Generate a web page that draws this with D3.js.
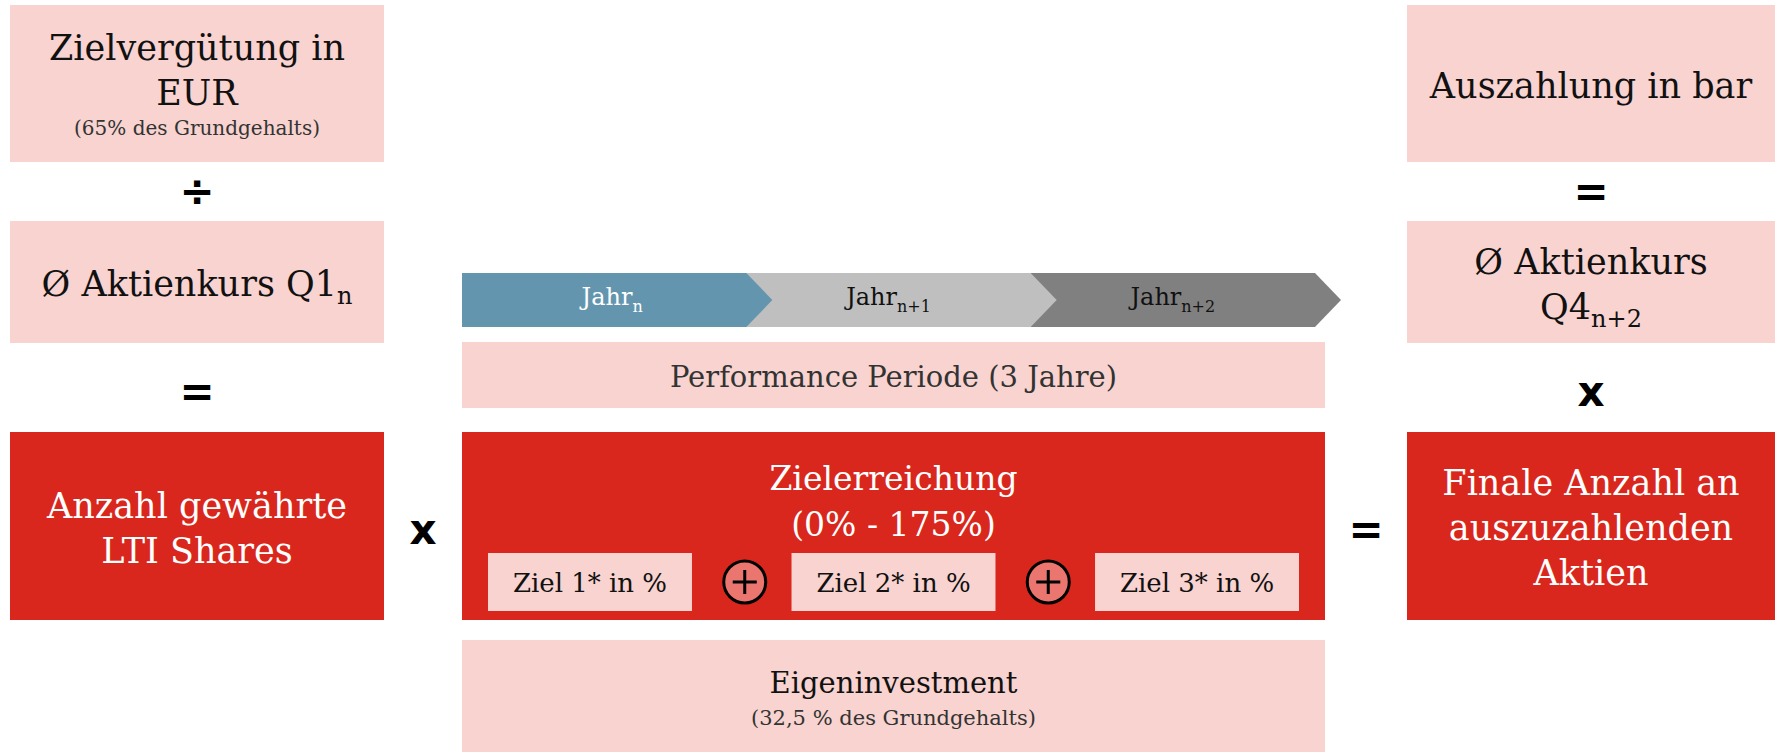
<!DOCTYPE html>
<html>
<head>
<meta charset="utf-8">
<script src="https://cdn.jsdelivr.net/npm/d3@7"></script>
<style>
  html, body { margin: 0; padding: 0; background: #fff; }
  svg { display: block; }
  .label { font-family: "DejaVu Serif", serif; }
  .op { font-family: "DejaVu Sans", sans-serif; font-weight: bold; }
</style>
</head>
<body>
<div id="chart"></div>
<script>
// "_" marks the start of a subscript
const leftBoxes = [
  { lines: ["Zielvergütung in", "EUR"], note: "(65% des Grundgehalts)", tone: "light" },
  { lines: ["Ø Aktienkurs Q1_n"], tone: "light" },
  { lines: ["Anzahl gewährte", "LTI Shares"], tone: "dark" },
];
const rightBoxes = [
  { lines: ["Auszahlung in bar"], tone: "light" },
  { lines: ["Ø Aktienkurs", "Q4_n+2"], tone: "light" },
  { lines: ["Finale Anzahl an", "auszuzahlenden", "Aktien"], tone: "dark" },
];
const leftOperators = ["÷", "="];
const rightOperators = ["=", "x"];
const joinOperators = ["x", "="];

const years = ["Jahr_n", "Jahr_n+1", "Jahr_n+2"];
const periodLabel = "Performance Periode (3 Jahre)";
const targetTitle = ["Zielerreichung", "(0% - 175%)"];
const goals = ["Ziel 1* in %", "Ziel 2* in %", "Ziel 3* in %"];
const investTitle = "Eigeninvestment";
const investNote = "(32,5 % des Grundgehalts)";

const width = 1777;
const height = 752;

const colors = {
  light: "#f8d3d0",
  dark: "#d9271d",
  years: ["#6396ae", "#bfbfbf", "#808080"],
  yearText: ["#ffffff", "#111111", "#111111"],
  plus: "#ea766f",
};

// column edges and row bands
const cols = {
  left: [10, 384],
  mid: [462, 1325],
  right: [1407, 1775],
};
const rows = [
  [5, 162],
  [221, 343],
  [432, 620],
];

const svg = d3
  .select("#chart")
  .append("svg")
  .attr("width", width)
  .attr("height", height)
  .attr("viewBox", [0, 0, width, height]);

function addText(sel, str, subSize, subShift) {
  const parts = str.split("_");
  sel.append("tspan").text(parts[0]);
  if (parts.length > 1) {
    sel
      .append("tspan")
      .attr("font-size", subSize)
      .attr("dy", subShift)
      .text(parts[1]);
  }
}

function drawColumn(boxes, [x0, x1]) {
  const cx = (x0 + x1) / 2;
  const g = svg.append("g");
  boxes.forEach((b, i) => {
    const [y0, y1] = rows[i];
    g.append("rect")
      .attr("x", x0)
      .attr("y", y0)
      .attr("width", x1 - x0)
      .attr("height", y1 - y0)
      .attr("fill", colors[b.tone]);

    const lh = 45;
    const noteH = b.note ? 30 : 0;
    const cy = (y0 + y1) / 2 + 14 - noteH / 2;
    const first = cy - ((b.lines.length - 1) * lh) / 2;
    b.lines.forEach((line, j) => {
      const t = g
        .append("text")
        .attr("class", "label")
        .attr("x", cx)
        .attr("y", first + j * lh)
        .attr("text-anchor", "middle")
        .attr("font-size", 35)
        .attr("fill", b.tone === "dark" ? "#fff" : "#111");
      addText(t, line, 24, 8);
    });
    if (b.note) {
      g.append("text")
        .attr("class", "label")
        .attr("x", cx)
        .attr("y", first + (b.lines.length - 1) * lh + noteH)
        .attr("text-anchor", "middle")
        .attr("font-size", 20)
        .attr("fill", "#333")
        .text(b.note);
    }
  });
}

function drawOperators(ops, cx) {
  ops.forEach((op, i) => {
    const cy = (rows[i][1] + rows[i + 1][0]) / 2 + (i === 0 ? 0 : 4);
    svg
      .append("text")
      .attr("class", "op")
      .attr("x", cx)
      .attr("y", cy)
      .attr("text-anchor", "middle")
      .attr("dominant-baseline", "central")
      .attr("font-size", 42)
      .attr("fill", "#000")
      .text(op);
  });
}

drawColumn(leftBoxes, cols.left);
drawColumn(rightBoxes, cols.right);
drawOperators(leftOperators, (cols.left[0] + cols.left[1]) / 2);
drawOperators(rightOperators, (cols.right[0] + cols.right[1]) / 2);

// operators between the columns on the bottom row
const bottomMid = (rows[2][0] + rows[2][1]) / 2 + 3;
[(cols.left[1] + cols.mid[0]) / 2, (cols.mid[1] + cols.right[0]) / 2].forEach(
  (x, i) => {
    svg
      .append("text")
      .attr("class", "op")
      .attr("x", x)
      .attr("y", bottomMid)
      .attr("text-anchor", "middle")
      .attr("dominant-baseline", "central")
      .attr("font-size", 42)
      .attr("fill", "#000")
      .text(joinOperators[i]);
  }
);

// ---- middle column ----
const midCx = (cols.mid[0] + cols.mid[1]) / 2;

// year chevrons
const xYear = d3.scaleBand().domain(years).range([462, 1315]).padding(0);
const yearTop = 273;
const yearBot = 327;
const tipDepth = 26;
const yearG = svg.append("g");
years
  .slice()
  .reverse()
  .forEach((y) => {
    const i = years.indexOf(y);
    const left = xYear(y);
    const shoulder = left + xYear.bandwidth();
    const ym = (yearTop + yearBot) / 2;
    yearG
      .append("path")
      .attr(
        "d",
        d3.line()([
          [left, yearTop],
          [shoulder, yearTop],
          [shoulder + tipDepth, ym],
          [shoulder, yearBot],
          [left, yearBot],
        ]) + "Z"
      )
      .attr("fill", colors.years[i]);
  });
years.forEach((y, i) => {
  const t = yearG
    .append("text")
    .attr("class", "label")
    .attr("x", xYear(y) + xYear.bandwidth() / 2 + (i === 0 ? 8 : 0))
    .attr("y", 305)
    .attr("text-anchor", "middle")
    .attr("font-size", 24)
    .attr("fill", colors.yearText[i]);
  addText(t, y, 16, 7);
});

// performance period
svg
  .append("rect")
  .attr("x", cols.mid[0])
  .attr("y", 342)
  .attr("width", cols.mid[1] - cols.mid[0])
  .attr("height", 66)
  .attr("fill", colors.light);
svg
  .append("text")
  .attr("class", "label")
  .attr("x", midCx)
  .attr("y", 387)
  .attr("text-anchor", "middle")
  .attr("font-size", 29)
  .attr("fill", "#333")
  .text(periodLabel);

// target achievement
svg
  .append("rect")
  .attr("x", cols.mid[0])
  .attr("y", rows[2][0])
  .attr("width", cols.mid[1] - cols.mid[0])
  .attr("height", rows[2][1] - rows[2][0])
  .attr("fill", colors.dark);
targetTitle.forEach((t, i) => {
  svg
    .append("text")
    .attr("class", "label")
    .attr("x", midCx)
    .attr("y", 490 + i * 46)
    .attr("text-anchor", "middle")
    .attr("font-size", 33)
    .attr("fill", "#fff")
    .text(t);
});

const xGoal = d3
  .scaleBand()
  .domain(goals)
  .range([488, 1299])
  .paddingInner(0.328);
const goalTop = 553;
const goalH = 58;
svg
  .append("g")
  .selectAll("rect")
  .data(goals)
  .join("rect")
  .attr("x", (d) => xGoal(d))
  .attr("y", goalTop)
  .attr("width", xGoal.bandwidth())
  .attr("height", goalH)
  .attr("fill", colors.light);
svg
  .append("g")
  .selectAll("text")
  .data(goals)
  .join("text")
  .attr("class", "label")
  .attr("x", (d) => xGoal(d) + xGoal.bandwidth() / 2)
  .attr("y", goalTop + goalH / 2 + 10)
  .attr("text-anchor", "middle")
  .attr("font-size", 26)
  .attr("fill", "#111")
  .text((d) => d);

// plus signs between goals
const plusG = svg
  .append("g")
  .selectAll("g")
  .data(goals.slice(1))
  .join("g")
  .attr("transform", (d) => {
    const prev = goals[goals.indexOf(d) - 1];
    const x = (xGoal(prev) + xGoal.bandwidth() + xGoal(d)) / 2 + 3;
    return `translate(${x},${goalTop + goalH / 2})`;
  });
plusG
  .append("circle")
  .attr("r", 21)
  .attr("fill", colors.plus)
  .attr("stroke", "#000")
  .attr("stroke-width", 3);
plusG
  .append("path")
  .attr("d", "M-12,0H12M0,-12V12")
  .attr("stroke", "#000")
  .attr("stroke-width", 3);

// own investment
svg
  .append("rect")
  .attr("x", cols.mid[0])
  .attr("y", 640)
  .attr("width", cols.mid[1] - cols.mid[0])
  .attr("height", height - 640)
  .attr("fill", colors.light);
svg
  .append("text")
  .attr("class", "label")
  .attr("x", midCx)
  .attr("y", 693)
  .attr("text-anchor", "middle")
  .attr("font-size", 29)
  .attr("fill", "#111")
  .text(investTitle);
svg
  .append("text")
  .attr("class", "label")
  .attr("x", midCx)
  .attr("y", 725)
  .attr("text-anchor", "middle")
  .attr("font-size", 21)
  .attr("fill", "#333")
  .text(investNote);
</script>
</body>
</html>
